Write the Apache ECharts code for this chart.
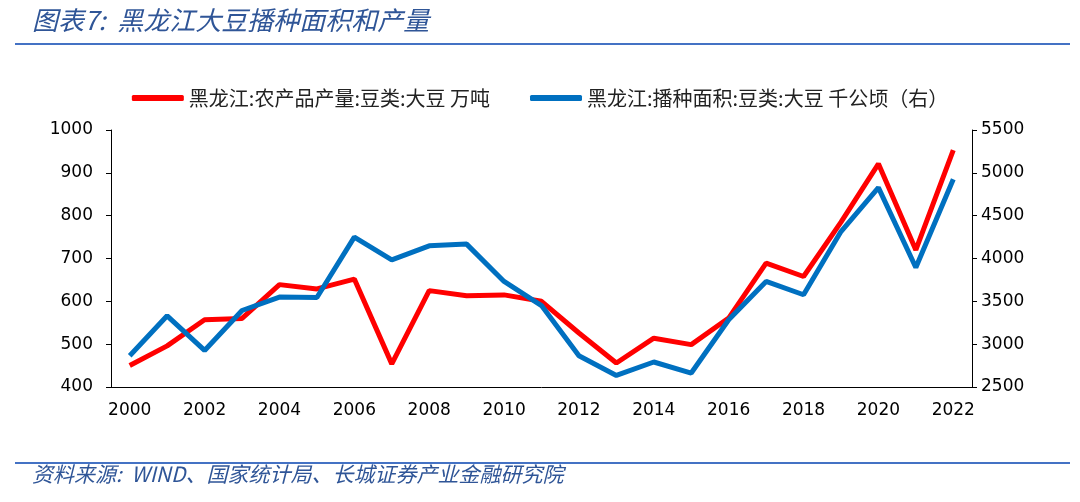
<!DOCTYPE html>
<html><head><meta charset="utf-8">
<script src="https://cdn.jsdelivr.net/npm/echarts@6/dist/echarts.min.js"></script>
<style>html,body{margin:0;padding:0;background:#fff}#c{width:1080px;height:502px}</style>
</head><body><div id="c"></div>
<script>
const years = ['2000','2001','2002','2003','2004','2005','2006','2007','2008','2009','2010','2011','2012','2013','2014','2015','2016','2017','2018','2019','2020','2021','2022'];
const production = [450,496,557,560,639,629,652,454,625,613,615,600,526,456,514,499,561,689,658,785,921,720,953];
const area = [2865,3331,2927,3393,3550,3545,4250,3985,4148,4168,3732,3450,2865,2635,2792,2663,3285,3732,3577,4315,4828,3895,4926];
const nameProd = '黑龙江:农产品产量:豆类:大豆 万吨';
const nameArea = '黑龙江:播种面积:豆类:大豆 千公顷（右）';
const titleText = '图表7:  黑龙江大豆播种面积和产量';
const sourceText = '资料来源:  WIND、国家统计局、长城证券产业金融研究院';

const chart = echarts.init(document.getElementById('c'));
const font = '"Noto Sans CJK SC", "Noto Sans", sans-serif';
const numFont = '"DejaVu Sans", sans-serif';
chart.setOption({
  animation: false,
  backgroundColor: '#fff',
  textStyle: {fontFamily: font},
  graphic: [
    {type:'text', left:32, top:7, style:{text:titleText, font:'italic 26px "Noto Sans CJK SC"', fill:'#2F5597'}},
    {type:'rect', shape:{x:15, y:43, width:1055, height:2}, style:{fill:'#4472C4'}},
    {type:'rect', shape:{x:15, y:462, width:1055, height:2}, style:{fill:'#4472C4'}},
    {type:'text', left:32, top:464, style:{text:sourceText, font:'italic 21px "Noto Sans CJK SC"', fill:'#2F5597'}}
  ],
  legend: {
    top: 83, left: 'center', itemWidth: 52, itemHeight: 6, itemGap: 40,
    icon: 'roundRect',
    textStyle: {fontSize: 20, color: '#222', fontFamily: font},
    data: [nameProd, nameArea]
  },
  grid: {left: 111, right: 108, top: 130, bottom: 115},
  xAxis: {
    type: 'category', data: years, boundaryGap: true,
    axisLine: {lineStyle: {color: '#000', width: 1}},
    axisTick: {interval: 1, length: 5, lineStyle:{color:'#000'}},
    axisLabel: {interval: 1, fontSize: 17, color: '#000', margin: 15, fontFamily: numFont}
  },
  yAxis: [
    {type:'value', min:400, max:1000, interval:100, splitLine:{show:false},
     axisLine:{show:true, lineStyle:{color:'#000'}}, axisTick:{show:true, length:5, lineStyle:{color:'#000'}},
     axisLabel:{fontSize:17, color:'#000', margin:18, fontFamily:numFont, formatter: v => String(v)}},
    {type:'value', min:2500, max:5500, interval:500, splitLine:{show:false}, position:'right',
     axisLine:{show:true, lineStyle:{color:'#000'}}, axisTick:{show:true, length:5, lineStyle:{color:'#000'}},
     axisLabel:{fontSize:17, color:'#000', margin:9, fontFamily:numFont, formatter: v => String(v)}}
  ],
  series: [
    {name: nameProd, type:'line', data: production, yAxisIndex:0, symbol:'none',
     lineStyle:{color:'#FF0000', width:5}, itemStyle:{color:'#FF0000'}},
    {name: nameArea, type:'line', data: area, yAxisIndex:1, symbol:'none',
     lineStyle:{color:'#0070C0', width:5}, itemStyle:{color:'#0070C0'}}
  ]
});
</script></body></html>
